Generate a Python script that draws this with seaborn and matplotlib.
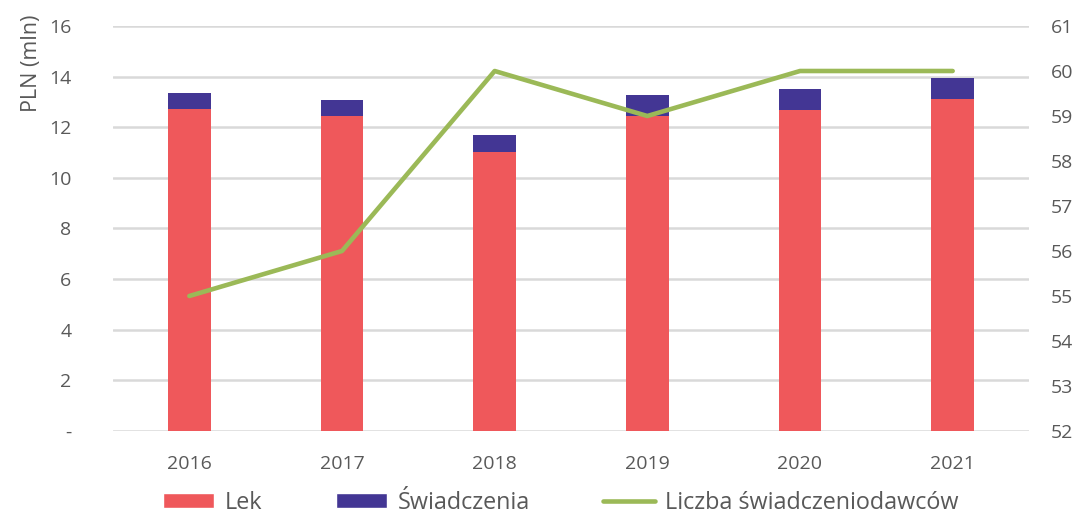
import numpy as np
import pandas as pd
import matplotlib
matplotlib.use("Agg")
import matplotlib.pyplot as plt
import seaborn as sns
from matplotlib.patches import Patch
from matplotlib.lines import Line2D

years = ["2016", "2017", "2018", "2019", "2020", "2021"]
lek = [12.73, 12.45, 11.03, 12.45, 12.69, 13.12]
swiadczenia = [0.63, 0.63, 0.67, 0.83, 0.83, 0.83]
liczba = [55, 56, 60, 59, 60, 60]
left_ticks = [0, 2, 4, 6, 8, 10, 12, 14, 16]
left_labels = ["-", "2", "4", "6", "8", "10", "12", "14", "16"]
right_ticks = [52, 53, 54, 55, 56, 57, 58, 59, 60, 61]

RED = "#EF585B"
PURPLE = "#433694"
GREEN = "#9BB957"
GRID = "#D9D9D9"
TXT = "#595959"

sns.set_theme(style="white")
plt.rcParams["font.family"] = ["Open Sans", "DejaVu Sans"]

df = pd.DataFrame({"year": years, "lek": lek, "sw": swiadczenia, "liczba": liczba})
df["total"] = df["lek"] + df["sw"]

fig = plt.figure(figsize=(10.76, 5.21), dpi=100)
ax = fig.add_axes([113/1076, 1-431/521, (1029-113)/1076, (431-26)/521])

sns.barplot(data=df, x="year", y="total", color=PURPLE, width=0.28, ax=ax,
            saturation=1, linewidth=0, edgecolor="none")
sns.barplot(data=df, x="year", y="lek", color=RED, width=0.28, ax=ax,
            saturation=1, linewidth=0, edgecolor="none")
ax.set_ylim(0, 16)
ax.set_yticks(left_ticks)
ax.set_yticklabels(left_labels)
ax.yaxis.grid(True, color=GRID, linewidth=1.8)
ax.set_axisbelow(True)
for s in ax.spines.values():
    s.set_visible(False)
ax.set_xlabel("")
ax.set_ylabel("PLN (mln)", fontsize=15.5, color=TXT, loc="top")
ax.yaxis.set_label_coords(-0.078, 1.028)
ax.tick_params(axis="y", length=0, pad=30, labelsize=14, labelcolor=TXT)
ax.tick_params(axis="x", length=0, pad=17, labelsize=14, labelcolor=TXT)
ax.set_xlim(-0.5, 5.5)

ax2 = ax.twinx()
sns.lineplot(data=df, x="year", y="liczba", color=GREEN, linewidth=3.3, ax=ax2,
             solid_capstyle="round", sort=False)
ax2.set_ylim(52, 61)
ax2.set_yticks(right_ticks)
ax2.set_ylabel("")
for s in ax2.spines.values():
    s.set_visible(False)
ax2.tick_params(axis="y", length=0, pad=16, labelsize=14, labelcolor=TXT)
ax2.grid(False)
ax2.set_xlim(-0.5, 5.5)

handles = [Patch(facecolor=RED, label="Lek"),
           Patch(facecolor=PURPLE, label="Świadczenia"),
           Line2D([], [], color=GREEN, linewidth=3.3, label="Liczba świadczeniodawców")]
leg = fig.legend(handles=handles, loc="lower center", bbox_to_anchor=(0.521, -0.028), ncol=3,
                 frameon=False, fontsize=16.8, handlelength=2.2, handleheight=0.65,
                 columnspacing=3.15, handletextpad=0.45)
for t in leg.get_texts():
    t.set_color(TXT)

fig.savefig("out.png", dpi=100)
